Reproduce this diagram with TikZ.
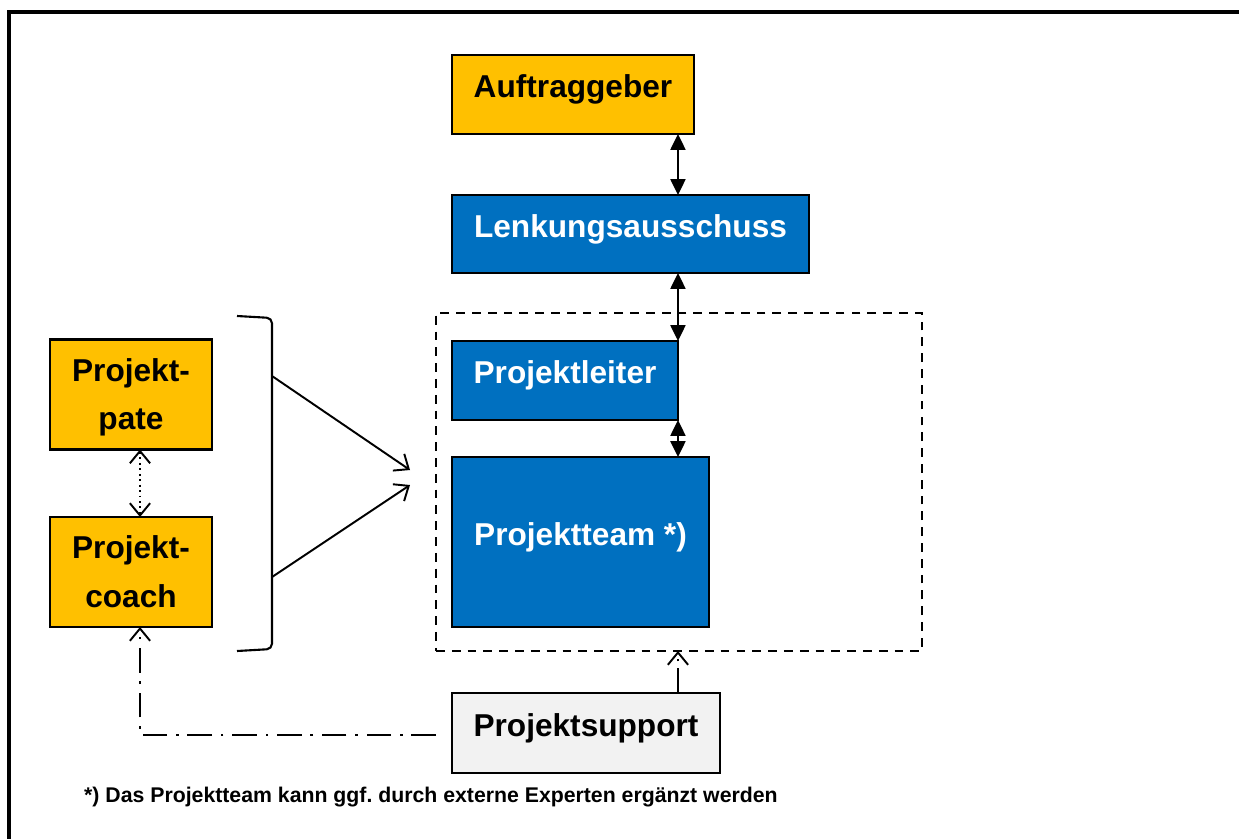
\documentclass[tikz,border=0pt]{standalone}
\usepackage{fontspec}
\setmainfont{Liberation Sans}
\usepackage{xcolor}
\usetikzlibrary{arrows.meta}
\frenchspacing

\definecolor{pmorange}{HTML}{FFC000}
\definecolor{pmblue}{HTML}{0070C0}
\definecolor{pmgray}{HTML}{F2F2F2}

\tikzset{
  rolebox/.style={draw, rectangle, line width=1.2pt, inner sep=0pt, outer sep=0pt,
    align=center, font=\bfseries\fontsize{18}{27.5}\selectfont},
  oneline/.style={text height=13pt, text depth=9.3pt},
  twoline/.style={text height=43.6pt, text depth=3.6pt},
  orangebox/.style={rolebox, fill=pmorange, text=black},
  bluebox/.style={rolebox, oneline, fill=pmblue, text=white},
  graybox/.style={rolebox, oneline, fill=pmgray, text=black},
  solidlink/.style={line width=1.2pt, {Triangle[length=9pt,width=8.5pt]}-{Triangle[length=9pt,width=8.5pt]}},
  openlink/.style={line width=1.1pt, -{Straight Barb[length=7pt,width=11.5pt]}}
}

\begin{document}
\begin{tikzpicture}[x=0.02cm, y=-0.02cm]
        \clip (0,0) rectangle (1239,838);
        % Frame
        \draw[line width=2pt] (9,900) |- (1300,12);

        % Steering
        \node[orangebox, oneline, minimum width=4.84cm, minimum height=1.58cm] (auftrag) at (573,94.5) {Auftraggeber};
        \node[bluebox, minimum width=7.14cm, minimum height=1.56cm] (lenkung) at (630.5,234) {Lenkungsausschuss};

        % Project team
        \node[draw, line width=1.1pt, dash pattern=on 5pt off 4pt, inner sep=0pt, outer sep=0pt,
              minimum width=9.72cm, minimum height=6.76cm] (frame) at (679,482) {};
        \node[bluebox, minimum width=4.52cm, minimum height=1.58cm] (leiter) at (565,380.5) {Projektleiter};
        \node[bluebox, minimum width=5.14cm, minimum height=3.40cm] (team) at (580.5,542) {Projektteam *)};
        \node[graybox, minimum width=5.36cm, minimum height=1.60cm] (support) at (586,733) {Projektsupport};

        % Sponsors
        \node[orangebox, twoline, minimum width=3.24cm, minimum height=2.20cm] (pate) at (131,394.5) {Projekt-\\pate};
        \node[orangebox, twoline, minimum width=3.24cm, minimum height=2.20cm] (coach) at (131,572) {Projekt-\\coach};

        % Bracket
        \draw[line width=1.2pt, rounded corners=3pt] (237,316) -- (272,318) -- (272,649) -- (237,651);
        \coordinate (brtop) at (272,376);
        \coordinate (brbot) at (272,577);
        \coordinate (tiptop) at (410,470);
        \coordinate (tipbot) at (410,485);
        \draw[openlink] (brtop) -- (tiptop);
        \draw[openlink] (brbot) -- (tipbot);

        % Links
        \draw[solidlink] (auftrag.south -| leiter.east) -- (lenkung.north -| leiter.east);
        \draw[solidlink] (lenkung.south -| leiter.east) -- (leiter.north east);
        \draw[solidlink] (leiter.south east) -- (team.north -| leiter.east);
        \draw[line width=1.1pt, dotted, {Straight Barb[length=7pt,width=11.5pt]}-{Straight Barb[length=7pt,width=11.5pt]}]
              ([xshift=0.18cm]pate.south) -- ([xshift=0.18cm]coach.north);
        \draw[openlink, dash pattern=on 14pt off 4pt on 1.5pt off 4pt]
              (support.north -| leiter.east) -- (frame.south -| leiter.east);
        \draw[openlink, dash pattern=on 14pt off 5pt on 1.5pt off 5pt]
              ([xshift=-0.32cm,yshift=-0.04cm]support.west) -| ([xshift=0.18cm]coach.south);

        % Note
        \node[anchor=west, font=\bfseries\fontsize{12.1}{14}\selectfont] (note) at (78,797)
              {*) Das Projektteam kann ggf. durch externe Experten ergänzt werden};
    \end{tikzpicture}
\end{document}
